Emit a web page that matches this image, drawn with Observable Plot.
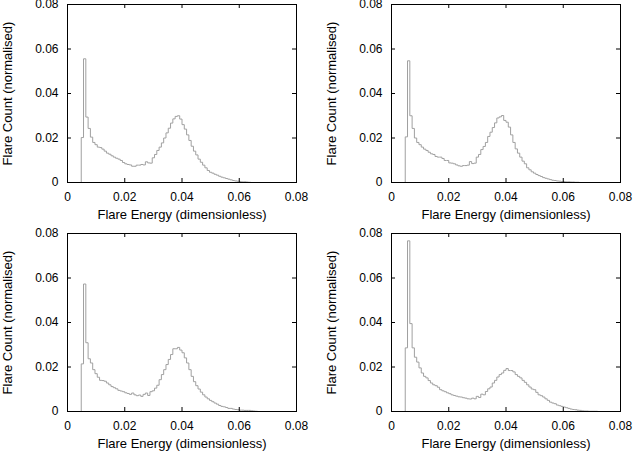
<!DOCTYPE html>
<html>
<head>
<meta charset="utf-8">
<script src="https://cdn.jsdelivr.net/npm/d3@7"></script>
<script src="https://cdn.jsdelivr.net/npm/@observablehq/plot@0.6"></script>
<style>
body { margin: 0; background: #fff; }
#fig { position: relative; width: 635px; height: 451px; overflow: hidden; font-family: "Liberation Sans", Arial, sans-serif; }
.panel { position: absolute; }
.panel svg { overflow: visible; }
</style>
</head>
<body>
<div id="fig"></div>
<script>
// histogrammes : bins de 0.0008, le premier bin non nul est le n°6
const binWidth = 0.0008;
const firstBin = 6;
const ticks = [0, 0.02, 0.04, 0.06, 0.08];
const xLabel = "Flare Energy (dimensionless)";
const yLabel = "Flare Count (normalised)";

const countsA = [0.0202, 0.0556, 0.0294, 0.0243, 0.0204, 0.018, 0.017, 0.0159, 0.0157, 0.015, 0.0141, 0.0132, 0.0127, 0.012, 0.0114, 0.0109, 0.0105, 0.0099, 0.009, 0.0084, 0.0081, 0.0079, 0.0073, 0.0073, 0.0078, 0.0078, 0.0081, 0.0079, 0.0093, 0.0088, 0.0087, 0.0111, 0.0126, 0.0144, 0.0159, 0.0178, 0.02, 0.0223, 0.0244, 0.0267, 0.0286, 0.0297, 0.03, 0.0285, 0.026, 0.024, 0.0214, 0.0189, 0.0163, 0.0141, 0.0124, 0.0105, 0.0091, 0.0078, 0.0066, 0.0054, 0.0046, 0.0042, 0.0037, 0.0033, 0.0028, 0.0024, 0.0021, 0.0018, 0.0015, 0.0012, 0.0009, 0.0007, 0.0006, 0.0004, 0.0003, 0.0003, 0.0002, 0.0001];

const countsB = [0.0205, 0.0547, 0.030, 0.0243, 0.020, 0.018, 0.017, 0.0159, 0.015, 0.0144, 0.0136, 0.0129, 0.0126, 0.0117, 0.0114, 0.0114, 0.0108, 0.0099, 0.0099, 0.0088, 0.0087, 0.0084, 0.0079, 0.0075, 0.0073, 0.0076, 0.0076, 0.0078, 0.0094, 0.0085, 0.0087, 0.0114, 0.0126, 0.0148, 0.0162, 0.018, 0.0207, 0.0226, 0.0247, 0.0268, 0.029, 0.0295, 0.0301, 0.0279, 0.0271, 0.0249, 0.0214, 0.018, 0.0151, 0.0132, 0.0114, 0.0096, 0.0084, 0.0066, 0.0057, 0.0048, 0.0042, 0.0036, 0.0031, 0.0027, 0.0022, 0.0019, 0.0016, 0.0013, 0.001, 0.0009, 0.0007, 0.0006, 0.0004, 0.0004, 0.0003, 0.0003, 0.0002, 0.0002, 0.0001, 0.0001];

const countsC = [0.0214, 0.0573, 0.0309, 0.0237, 0.0218, 0.0188, 0.017, 0.0154, 0.014, 0.0139, 0.0136, 0.0128, 0.012, 0.0112, 0.0107, 0.0102, 0.0095, 0.0092, 0.0089, 0.0084, 0.0081, 0.0077, 0.0083, 0.0075, 0.0071, 0.0074, 0.0068, 0.0077, 0.0083, 0.0072, 0.0089, 0.0093, 0.0105, 0.0118, 0.0143, 0.0166, 0.0188, 0.0211, 0.0234, 0.0256, 0.0282, 0.0282, 0.0288, 0.0276, 0.0264, 0.0241, 0.0218, 0.0188, 0.0158, 0.0134, 0.0116, 0.0101, 0.0087, 0.0075, 0.0065, 0.0057, 0.005, 0.0044, 0.0038, 0.0033, 0.0027, 0.0023, 0.0021, 0.0018, 0.0014, 0.0014, 0.0011, 0.0009, 0.0008, 0.0006, 0.0006, 0.0005, 0.0005, 0.0005, 0.0003, 0.0002, 0.0001];

const countsD = [0.0286, 0.0767, 0.0395, 0.0286, 0.0244, 0.0222, 0.0196, 0.0173, 0.0158, 0.0151, 0.0139, 0.0128, 0.012, 0.0116, 0.0109, 0.0098, 0.0093, 0.0089, 0.0084, 0.008, 0.0075, 0.0072, 0.0069, 0.0066, 0.0065, 0.0062, 0.006, 0.0057, 0.0056, 0.006, 0.0057, 0.0068, 0.0063, 0.0078, 0.0075, 0.009, 0.0102, 0.011, 0.0128, 0.014, 0.0155, 0.0166, 0.0173, 0.0185, 0.0193, 0.0184, 0.0184, 0.0178, 0.0166, 0.0158, 0.0151, 0.014, 0.0131, 0.012, 0.011, 0.0101, 0.0098, 0.0086, 0.0075, 0.0071, 0.0065, 0.0057, 0.005, 0.0042, 0.0038, 0.0035, 0.0029, 0.0026, 0.0023, 0.002, 0.0017, 0.0014, 0.0011, 0.0009, 0.0008, 0.0006, 0.0005, 0.0003, 0.0002, 0.0002, 0.0001, 0.0001, 0.0001, 0.0001];

const panels = [
    {counts: countsA, left: 0, top: 0},
    {counts: countsB, left: 324, top: 0},
    {counts: countsC, left: 0, top: 229},
    {counts: countsD, left: 324, top: 229}
];

// points pour un contour en escalier (histeps)
function stepPoints(values) {
    const pts = [{x: firstBin * binWidth, y: 0}];
    values.forEach((v, i) => pts.push({x: (firstBin + i) * binWidth, y: v}));
    pts.push({x: (firstBin + values.length) * binWidth, y: 0});
    return pts;
}

const W = 311, H = 226;
const mL = 67, mR = 15, mT = 4, mB = 44;
const frameW = W - mL - mR, frameH = H - mT - mB;
const tickLen = 4;
const fig = document.getElementById("fig");

panels.forEach(p => {
    const plot = Plot.plot({
        width: W,
        height: H,
        marginLeft: mL,
        marginRight: mR,
        marginTop: mT,
        marginBottom: mB,
        style: {fontFamily: '"Liberation Sans", Arial, sans-serif', fontSize: "12px", color: "#000", background: "transparent", overflow: "visible"},
        x: {domain: [0, 0.08]},
        y: {domain: [0, 0.08]},
        marks: [
            Plot.lineY(stepPoints(p.counts), {x: "x", y: "y", curve: "step-after", stroke: "#a0a0a0", strokeWidth: 1}),
            // ticks vers l'intérieur, sur les 4 côtés
            Plot.tickX(ticks, {x: d => d, stroke: "#000", insetTop: frameH - tickLen}),
            Plot.tickX(ticks, {x: d => d, stroke: "#000", insetBottom: frameH - tickLen}),
            Plot.tickY(ticks, {y: d => d, stroke: "#000", insetRight: frameW - tickLen}),
            Plot.tickY(ticks, {y: d => d, stroke: "#000", insetLeft: frameW - tickLen}),
            Plot.axisX(ticks, {tickSize: 0, tickPadding: 10, tickFormat: d => String(d), label: null, fontSize: 12}),
            Plot.axisY(ticks, {tickSize: 0, tickPadding: 9, tickFormat: d => String(d), label: null, fontSize: 12}),
            Plot.text([xLabel], {frameAnchor: "bottom", dy: 27, lineAnchor: "top", fontSize: 13, fill: "#000"}),
            Plot.text([yLabel], {frameAnchor: "left", dx: -60, rotate: -90, textAnchor: "middle", lineAnchor: "middle", fontSize: 13, fill: "#000"}),
            Plot.frame({stroke: "#000", strokeWidth: 1})
        ]
    });
    const div = document.createElement("div");
    div.className = "panel";
    div.style.left = p.left + "px";
    div.style.top = p.top + "px";
    div.appendChild(plot);
    fig.appendChild(div);
});
</script>
</body>
</html>
